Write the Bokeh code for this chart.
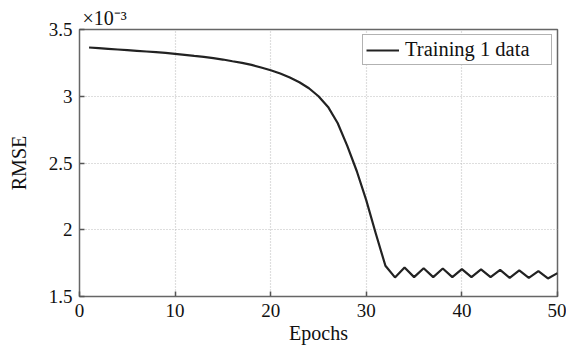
from bokeh.plotting import figure
from bokeh.models import FixedTicker, Legend, LegendItem, Range1d
from bokeh.embed import file_html
from bokeh.resources import INLINE

epochs = list(range(1, 51))
rmse = [3.365, 3.360, 3.355, 3.350, 3.345, 3.340, 3.335, 3.330, 3.325, 3.318,
        3.310, 3.302, 3.295, 3.285, 3.275, 3.262, 3.250, 3.235, 3.215, 3.195,
        3.170, 3.140, 3.105, 3.060, 3.000, 2.920, 2.800, 2.630, 2.440, 2.220,
        1.970, 1.730, 1.643, 1.717, 1.645, 1.712, 1.645, 1.710, 1.645, 1.705,
        1.645, 1.703, 1.645, 1.700, 1.640, 1.695, 1.640, 1.690, 1.635, 1.675]
x_ticks = [0, 10, 20, 30, 40, 50]
y_ticks = [1.5, 2.0, 2.5, 3.0, 3.5]
y_tick_labels = {1.5: "1.5", 2.0: "2", 2.5: "2.5", 3.0: "3", 3.5: "3.5"}
scale_text = "×10⁻³"

FONT = "Liberation Serif"
FS = "19px"

p = figure(width=566, height=355, output_backend="svg", toolbar_location=None,
           x_range=Range1d(0, 50), y_range=Range1d(1.5, 3.5),
           min_border_left=79, min_border_right=9, min_border_top=29, min_border_bottom=59)
p.background_fill_color = "white"
p.border_fill_color = "white"
p.outline_line_color = "#666666"
p.outline_line_width = 1.5

p.title.text = scale_text
p.title.align = "left"
p.title.offset = 3
p.title.standoff = 2
p.title.text_font = FONT
p.title.text_font_size = "20px"
p.title.text_font_style = "normal"
p.title.text_color = "#111111"

r = p.line(epochs, rmse, line_color="#222222", line_width=2.2)

for ax in (p.xaxis[0], p.yaxis[0]):
    ax.axis_line_color = None
    ax.major_tick_in = 5
    ax.major_tick_out = 0
    ax.major_tick_line_color = "#555555"
    ax.major_tick_line_width = 1.5
    ax.minor_tick_line_color = None
    ax.major_label_text_font = FONT
    ax.major_label_text_font_size = FS
    ax.major_label_text_color = "#111111"
    ax.axis_label_text_font = FONT
    ax.axis_label_text_font_size = "20px"
    ax.axis_label_text_font_style = "normal"
    ax.axis_label_text_color = "#111111"

p.xaxis[0].ticker = FixedTicker(ticks=x_ticks)
p.yaxis[0].ticker = FixedTicker(ticks=y_ticks)
p.yaxis[0].major_label_overrides = y_tick_labels
p.xaxis[0].axis_label = "Epochs"
p.yaxis[0].axis_label = "RMSE"
p.xaxis[0].major_label_standoff = 7
p.yaxis[0].major_label_standoff = 7
p.xaxis[0].axis_label_standoff = 2
p.yaxis[0].axis_label_standoff = 16

p.xgrid[0].ticker = FixedTicker(ticks=x_ticks)
p.ygrid[0].ticker = FixedTicker(ticks=y_ticks)
for g in (p.xgrid[0], p.ygrid[0]):
    g.grid_line_color = "#bdbdbd"
    g.grid_line_dash = "1 2"
    g.grid_line_width = 1.2

legend = Legend(items=[LegendItem(label="Training 1 data", renderers=[r])],
                location="top_right", label_text_font=FONT, label_text_font_size="20.5px",
                label_text_color="#111111", border_line_color="#666666",
                border_line_width=1.5, glyph_width=33, glyph_height=20,
                padding=3, label_standoff=6, margin=5, label_height=20, label_width=143)
p.add_layout(legend)

open("out.html", "w").write(file_html(p, INLINE))
